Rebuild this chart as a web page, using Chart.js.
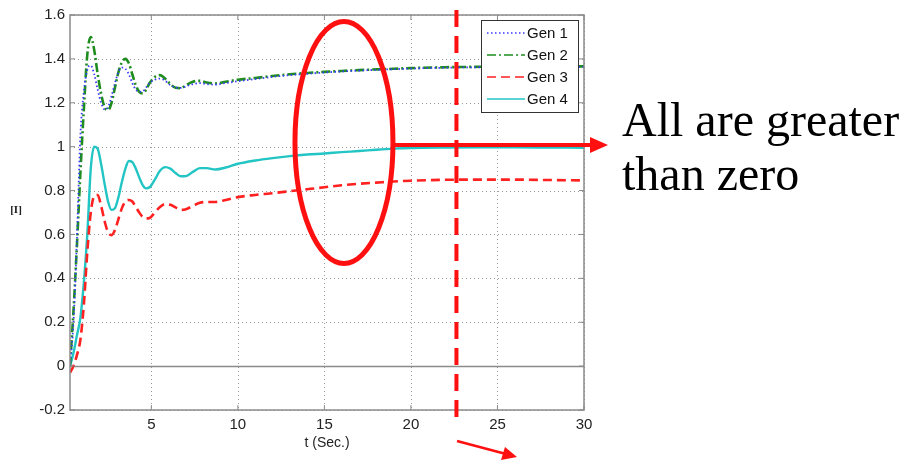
<!DOCTYPE html>
<html lang="en">
<head>
<meta charset="UTF-8" />
<title>Generator response</title>
<script src="https://cdn.jsdelivr.net/npm/chart.js"></script>
<style>
  * { margin: 0; padding: 0; box-sizing: border-box; }
  body { width: 911px; height: 464px; background: #fff; overflow: hidden; }
</style>
</head>
<body>
<canvas id="chart" width="911" height="464"></canvas>
<script>
  // time base (s) shared by all four generators
  const t = [0.3, 0.5, 0.7, 0.9, 1.1, 1.3, 1.5, 1.7, 1.9, 2.1, 2.3, 2.5, 2.7, 2.9,
    3.1, 3.3, 3.5, 3.7, 3.9, 4.1, 4.3, 4.5, 4.7, 4.9, 5.2, 5.5, 5.8, 6.1, 6.4, 6.7,
    7.0, 7.4, 7.8, 8.2, 8.7, 9.3, 10, 11, 12, 13, 14, 15, 16, 17, 18, 19, 20,
    22, 24, 26, 28, 30];

  const gen1 = [0, 0.2, 0.58, 1.05, 1.25, 1.35, 1.37, 1.33, 1.26, 1.2, 1.17, 1.18, 1.23, 1.29,
    1.34, 1.36, 1.355, 1.33, 1.29, 1.26, 1.25, 1.252, 1.27, 1.29, 1.305, 1.31, 1.3, 1.28, 1.27, 1.268,
    1.275, 1.285, 1.29, 1.285, 1.283, 1.29, 1.298, 1.308, 1.318, 1.326, 1.332, 1.338, 1.343, 1.347, 1.35, 1.353, 1.356,
    1.36, 1.362, 1.363, 1.364, 1.364];

  const gen2 = [0, 0.25, 0.55, 0.88, 1.17, 1.42, 1.5, 1.44, 1.33, 1.24, 1.18, 1.167, 1.2, 1.27,
    1.34, 1.385, 1.4, 1.38, 1.33, 1.28, 1.25, 1.243, 1.26, 1.29, 1.318, 1.326, 1.31, 1.285, 1.268, 1.266,
    1.28, 1.296, 1.3, 1.292, 1.288, 1.296, 1.305, 1.313, 1.322, 1.33, 1.336, 1.341, 1.345, 1.349, 1.352, 1.355, 1.358,
    1.362, 1.364, 1.365, 1.366, 1.366];

  const gen3 = [-0.03, 0, 0.05, 0.12, 0.28, 0.52, 0.7, 0.775, 0.78, 0.73, 0.66, 0.61, 0.597, 0.62,
    0.67, 0.72, 0.75, 0.757, 0.75, 0.725, 0.7, 0.68, 0.673, 0.675, 0.7, 0.725, 0.738, 0.735, 0.723, 0.712,
    0.715, 0.73, 0.744, 0.748, 0.748, 0.757, 0.77, 0.78, 0.788, 0.797, 0.806, 0.815, 0.824, 0.831, 0.836, 0.841, 0.845,
    0.849, 0.85, 0.85, 0.848, 0.846];

  const gen4 = [0, 0.06, 0.14, 0.22, 0.38, 0.6, 0.9, 1.0, 0.99, 0.92, 0.83, 0.75, 0.712, 0.72,
    0.77, 0.84, 0.9, 0.935, 0.93, 0.9, 0.86, 0.825, 0.81, 0.815, 0.85, 0.89, 0.907, 0.9, 0.88, 0.865,
    0.866, 0.885, 0.902, 0.902, 0.896, 0.905, 0.922, 0.937, 0.948, 0.957, 0.964, 0.969, 0.975, 0.98, 0.986, 0.991, 0.994,
    0.996, 0.997, 0.997, 0.996, 0.995];

  const seriesNames = ['Gen 1', 'Gen 2', 'Gen 3', 'Gen 4'];
  const xTicks = [5, 10, 15, 20, 25, 30];
  const yTicks = [-0.2, 0, 0.2, 0.4, 0.6, 0.8, 1, 1.2, 1.4, 1.6];

  const AXIS = '#8a8a8a';
  const RED = '#ff1010';

  const toPoints = arr => t.map((x, i) => ({ x, y: arr[i] }));

  // matlab style frame: dotted grid, boxed axes, inward ticks, legend and the notes
  const matlabFrame = {
    id: 'matlabFrame',
    beforeDatasetsDraw(chart) {
      const { ctx, chartArea: a, scales: { x, y } } = chart;
      ctx.save();
      ctx.lineWidth = 1;
      xTicks.forEach(v => {
        const px = Math.round(x.getPixelForValue(v)) + 0.5;
        ctx.strokeStyle = '#9a9a9a';
        ctx.setLineDash([1, 3]);
        ctx.beginPath(); ctx.moveTo(px, a.top); ctx.lineTo(px, a.bottom); ctx.stroke();
      });
      yTicks.forEach(v => {
        const py = Math.round(y.getPixelForValue(v)) + 0.5;
        if (v === 0) {
          ctx.setLineDash([]);
          ctx.strokeStyle = AXIS;
          ctx.lineWidth = 1.5;
        } else {
          ctx.setLineDash([1, 3]);
          ctx.strokeStyle = '#9a9a9a';
          ctx.lineWidth = 1;
        }
        ctx.beginPath(); ctx.moveTo(a.left, py); ctx.lineTo(a.right, py); ctx.stroke();
      });
      ctx.restore();
    },
    afterDatasetsDraw(chart) {
      const { ctx, chartArea: a, scales: { x, y } } = chart;
      ctx.save();

      // axes box and inward ticks
      ctx.setLineDash([]);
      ctx.strokeStyle = AXIS;
      ctx.lineWidth = 1.5;
      ctx.strokeRect(a.left, a.top, a.right - a.left, a.bottom - a.top);
      ctx.lineWidth = 1;
      ctx.beginPath();
      xTicks.forEach(v => {
        const px = x.getPixelForValue(v);
        ctx.moveTo(px, a.bottom); ctx.lineTo(px, a.bottom - 5);
        ctx.moveTo(px, a.top); ctx.lineTo(px, a.top + 5);
      });
      yTicks.forEach(v => {
        const py = y.getPixelForValue(v);
        ctx.moveTo(a.left, py); ctx.lineTo(a.left + 5, py);
        ctx.moveTo(a.right, py); ctx.lineTo(a.right - 5, py);
      });
      ctx.stroke();

      // axis titles
      ctx.fillStyle = '#222';
      ctx.font = '14px "Liberation Sans", Arial, sans-serif';
      ctx.textAlign = 'center';
      ctx.textBaseline = 'middle';
      ctx.fillText('t (Sec.)', (a.left + a.right) / 2, 443);
      ctx.font = 'bold 11px "Liberation Serif", serif';
      ctx.fillText('[I]', 16, 210);

      // legend
      const lx = 481, ly = 20, lw = 97, lh = 92;
      ctx.fillStyle = '#fff';
      ctx.fillRect(lx, ly, lw, lh);
      ctx.strokeStyle = '#333';
      ctx.lineWidth = 1;
      ctx.strokeRect(lx + 0.5, ly + 0.5, lw, lh);
      ctx.font = '15px "Liberation Sans", Arial, sans-serif';
      ctx.textAlign = 'left';
      chart.data.datasets.forEach((ds, i) => {
        const ry = ly + 13 + i * 22;
        ctx.strokeStyle = ds.borderColor;
        ctx.lineWidth = 1.6;
        ctx.setLineDash(ds.borderDash || []);
        ctx.beginPath(); ctx.moveTo(lx + 6, ry); ctx.lineTo(lx + 44, ry); ctx.stroke();
        ctx.setLineDash([]);
        ctx.fillStyle = '#111';
        ctx.fillText(ds.label, lx + 46, ry + 1);
      });

      // red notes: ellipse, dashed marker, arrows and text
      const ex = x.getPixelForValue(16.13), ey = y.getPixelForValue(1.019);
      ctx.strokeStyle = RED;
      ctx.fillStyle = RED;
      ctx.lineWidth = 5;
      ctx.beginPath(); ctx.ellipse(ex, ey, 49, 121, 0, 0, Math.PI * 2); ctx.stroke();

      const vx = x.getPixelForValue(22.63);
      ctx.lineWidth = 4;
      ctx.setLineDash([17, 9]);
      ctx.beginPath(); ctx.moveTo(vx, 10); ctx.lineTo(vx, 424); ctx.stroke();
      ctx.setLineDash([]);

      ctx.beginPath(); ctx.moveTo(ex + 49, 145); ctx.lineTo(592, 145); ctx.stroke();
      ctx.beginPath(); ctx.moveTo(608, 145); ctx.lineTo(590, 137); ctx.lineTo(590, 153); ctx.closePath(); ctx.fill();

      ctx.lineWidth = 2.5;
      ctx.beginPath(); ctx.moveTo(457, 441); ctx.lineTo(506, 454); ctx.stroke();
      ctx.beginPath(); ctx.moveTo(517, 457); ctx.lineTo(501, 460); ctx.lineTo(505, 447); ctx.closePath(); ctx.fill();

      ctx.fillStyle = '#000';
      ctx.font = '48px "Liberation Serif", "Times New Roman", serif';
      ctx.textAlign = 'left';
      ctx.textBaseline = 'alphabetic';
      ctx.fillText('All are greater', 622, 136);
      ctx.fillText('than zero', 622, 190);
      ctx.restore();
    }
  };

  new Chart(document.getElementById('chart'), {
    type: 'line',
    data: {
      datasets: [
        { label: seriesNames[0], data: toPoints(gen1), borderColor: '#3a3aff', borderWidth: 1.8, borderDash: [1.5, 2.5] },
        { label: seriesNames[1], data: toPoints(gen2), borderColor: '#1e8c1e', borderWidth: 2.6, borderDash: [9, 3, 2, 3] },
        { label: seriesNames[2], data: toPoints(gen3), borderColor: '#ff2020', borderWidth: 2.6, borderDash: [9, 5] },
        { label: seriesNames[3], data: toPoints(gen4), borderColor: '#22c4c4', borderWidth: 2.4 }
      ]
    },
    options: {
      responsive: false,
      animation: false,
      layout: { padding: { left: 0, right: 327, top: 15, bottom: 0 } },
      plugins: { legend: { display: false }, tooltip: { enabled: false } },
      elements: {
        point: { radius: 0 },
        line: { cubicInterpolationMode: 'monotone', fill: false }
      },
      scales: {
        x: {
          type: 'linear', min: 0.3, max: 30,
          afterBuildTicks: s => { s.ticks = xTicks.map(v => ({ value: v })); },
          afterFit: s => { s.height = 54; },
          grid: { display: false, drawTicks: false },
          border: { display: false },
          ticks: { padding: 6, maxRotation: 0, color: '#222', font: { family: '"Liberation Sans", Arial, sans-serif', size: 15 } }
        },
        y: {
          min: -0.2, max: 1.6,
          afterBuildTicks: s => { s.ticks = yTicks.map(v => ({ value: v })); },
          afterFit: s => { s.width = 70; },
          grid: { display: false, drawTicks: false },
          border: { display: false },
          ticks: {
            padding: 5, color: '#222',
            font: { family: '"Liberation Sans", Arial, sans-serif', size: 15 },
            callback: v => String(+v.toFixed(1))
          }
        }
      }
    },
    plugins: [matlabFrame]
  });
</script>
</body>
</html>
